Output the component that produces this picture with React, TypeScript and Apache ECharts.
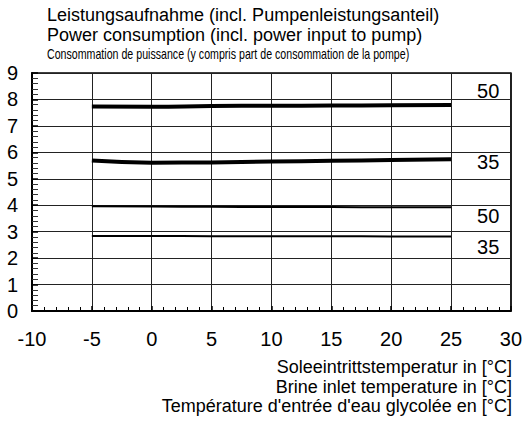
import React, { useEffect, useRef } from "react";
import * as echarts from "echarts";

const xValues = [-5, 0, 5, 10, 15, 20, 25];
const thick50 = [7.73, 7.72, 7.75, 7.76, 7.77, 7.78, 7.79];
const thick35 = [5.69, 5.61, 5.62, 5.65, 5.68, 5.71, 5.74];
const thin50 = [3.96, 3.95, 3.94, 3.93, 3.93, 3.92, 3.92];
const thin35 = [2.84, 2.84, 2.83, 2.83, 2.83, 2.82, 2.82];
const seriesLabels = ["50", "35", "50", "35"];
const titleLines = [
  "Leistungsaufnahme (incl. Pumpenleistungsanteil)",
  "Power consumption (incl. power input to pump)",
  "Consommation de puissance (y compris part de consommation de la pompe)",
];
const xNameLines = [
  "Soleeintrittstemperatur in [°C]",
  "Brine inlet temperature in [°C]",
  "Température d'entrée d'eau glycolée en [°C]",
];

const FONT = "'Liberation Sans', Arial, sans-serif";

export default function App() {
  const ref = useRef<HTMLDivElement>(null);
  useEffect(() => {
    document.body.style.margin = "0";
    if (!ref.current) return;
    const chart = echarts.init(ref.current, null, { renderer: "svg" });
    const mk = (vals: number[], width: number, label: string, dy: number) => ({
      type: "line",
      data: xValues.map((x, i) => [x, vals[i]]),
      smooth: true,
      showSymbol: false,
      symbol: "none",
      lineStyle: { color: "#000", width },
      endLabel: {
        show: true,
        formatter: label,
        distance: 26,
        offset: [0, dy],
        fontSize: 20,
        color: "#000",
        fontFamily: FONT,
      },
      silent: true,
    });
    chart.setOption({
      animation: false,
      backgroundColor: "#fff",
      grid: {
        left: 32,
        right: 14,
        top: 73,
        bottom: 115,
        show: true,
        borderColor: "#000",
        borderWidth: 1.5,
      },
      xAxis: {
        type: "value",
        min: -10,
        max: 30,
        interval: 5,
        axisLine: { show: true, onZero: false, lineStyle: { color: "#000", width: 2 } },
        axisTick: { show: true, inside: true, length: 5, lineStyle: { color: "#000", width: 1.5 } },
        minorTick: { show: true, splitNumber: 5, length: 4, lineStyle: { color: "#000", width: 1 } },
        splitLine: { show: true, lineStyle: { color: "#222", width: 1 } },
        axisLabel: { fontSize: 20, color: "#000", margin: 18, fontFamily: FONT },
      },
      yAxis: {
        type: "value",
        min: 0,
        max: 9,
        interval: 1,
        axisLine: { show: true, onZero: false, lineStyle: { color: "#000", width: 2 } },
        axisTick: { show: true, inside: true, length: 6, lineStyle: { color: "#000", width: 1.5 } },
        minorTick: { show: true, splitNumber: 5, length: 6, lineStyle: { color: "#333", width: 1 } },
        splitLine: { show: true, lineStyle: { color: "#222", width: 1 } },
        axisLabel: { fontSize: 20, color: "#000", margin: 14, fontFamily: FONT },
      },
      series: [
        mk(thick50, 4, seriesLabels[0], -14),
        mk(thick35, 4, seriesLabels[1], 3),
        mk(thin50, 2, seriesLabels[2], 9),
        mk(thin35, 2, seriesLabels[3], 11),
      ],
      graphic: [
        ...titleLines.map((t, i) => ({
          type: "text",
          x: 47,
          y: [15, 35, 54][i],
          scaleX: i < 2 ? 1 : 0.76,
          style: {
            text: t,
            fontSize: i < 2 ? 18 : 14,
            fontFamily: FONT,
            fill: "#000",
            textAlign: "left",
            textVerticalAlign: "middle",
          },
        })),
        ...xNameLines.map((t, i) => ({
          type: "text",
          x: 512,
          y: [367, 387, 406][i],
          style: {
            text: t,
            fontSize: 18,
            fontFamily: FONT,
            fill: "#000",
            textAlign: "right",
            textVerticalAlign: "middle",
          },
        })),
      ],
    });
    return () => chart.dispose();
  }, []);
  return <div ref={ref} style={{ width: 525, height: 426 }} />;
}
